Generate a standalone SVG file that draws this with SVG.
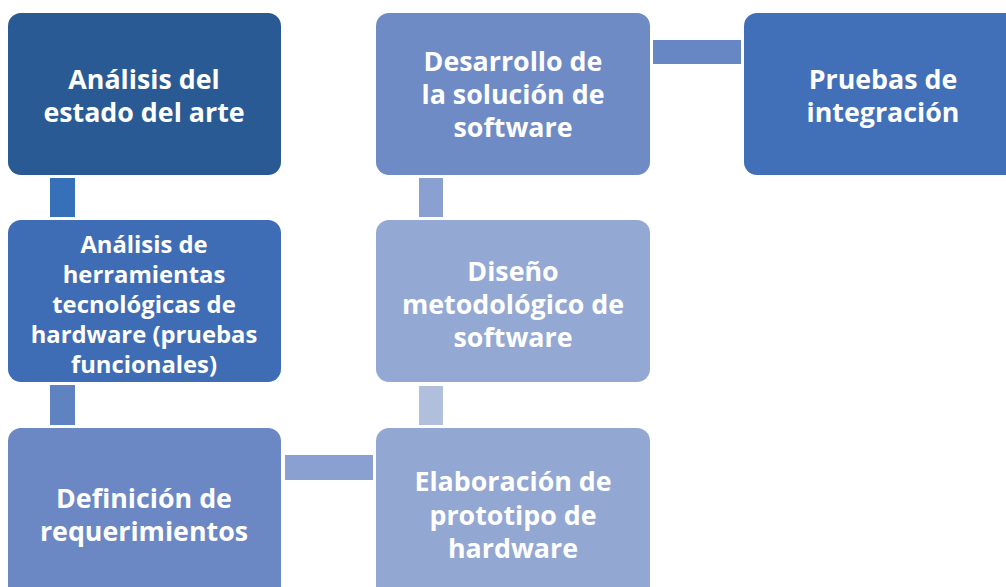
<svg xmlns="http://www.w3.org/2000/svg" width="1006" height="587" viewBox="0 0 1006 587">
<style>
.t{font-family:"Open Sans","Liberation Sans",sans-serif;font-weight:700;fill:#fff;text-anchor:middle;font-size:26.8px}
.s{font-size:23.8px}
</style>
<rect width="1006" height="587" fill="#fff"/>
<g id="connectors">
<rect x="50" y="178" width="25" height="39" fill="#3570B8"/>
<rect x="50" y="385" width="25" height="40" fill="#5F82C0"/>
<rect x="285" y="455" width="88" height="25" fill="#8AA0D0"/>
<rect x="419" y="386" width="24" height="39" fill="#B0C0DC"/>
<rect x="419" y="178" width="24" height="39" fill="#8AA0D0"/>
<rect x="653" y="40" width="88" height="24" fill="#6787C4"/>
</g>
<g id="n1"><rect x="8" y="13" width="273" height="162" rx="13" fill="#2A5A94"/>
<text class="t" x="144" y="89">Análisis del</text><text class="t" x="144" y="122">estado del arte</text></g>
<g id="n2"><rect x="8" y="220" width="273" height="162" rx="13" fill="#3F6DB5"/>
<text class="t s" x="144" y="253">Análisis de</text><text class="t s" x="144" y="283">herramientas</text><text class="t s" x="144" y="313">tecnológicas de</text><text class="t s" x="144" y="343">hardware (pruebas</text><text class="t s" x="144" y="373">funcionales)</text></g>
<g id="n3"><rect x="8" y="428" width="273" height="175" rx="13" fill="#6B87C4"/>
<text class="t" x="144" y="508">Definición de</text><text class="t" x="144" y="541">requerimientos</text></g>
<g id="n4"><rect x="376" y="428" width="274" height="175" rx="13" fill="#93A7D3"/>
<text class="t" x="513" y="491">Elaboración de</text><text class="t" x="513" y="525">prototipo de</text><text class="t" x="513" y="558">hardware</text></g>
<g id="n5"><rect x="376" y="220" width="274" height="162" rx="13" fill="#94A8D4"/>
<text class="t" x="513" y="281">Diseño</text><text class="t" x="513" y="314">metodológico de</text><text class="t" x="513" y="347">software</text></g>
<g id="n6"><rect x="376" y="13" width="274" height="162" rx="13" fill="#6E8BC6"/>
<text class="t" x="513" y="71">Desarrollo de</text><text class="t" x="513" y="104">la solución de</text><text class="t" x="513" y="137">software</text></g>
<g id="n7"><rect x="744" y="13" width="280" height="162" rx="13" fill="#4170B8"/>
<text class="t" x="883" y="89">Pruebas de</text><text class="t" x="883" y="122">integración</text></g>
</svg>
